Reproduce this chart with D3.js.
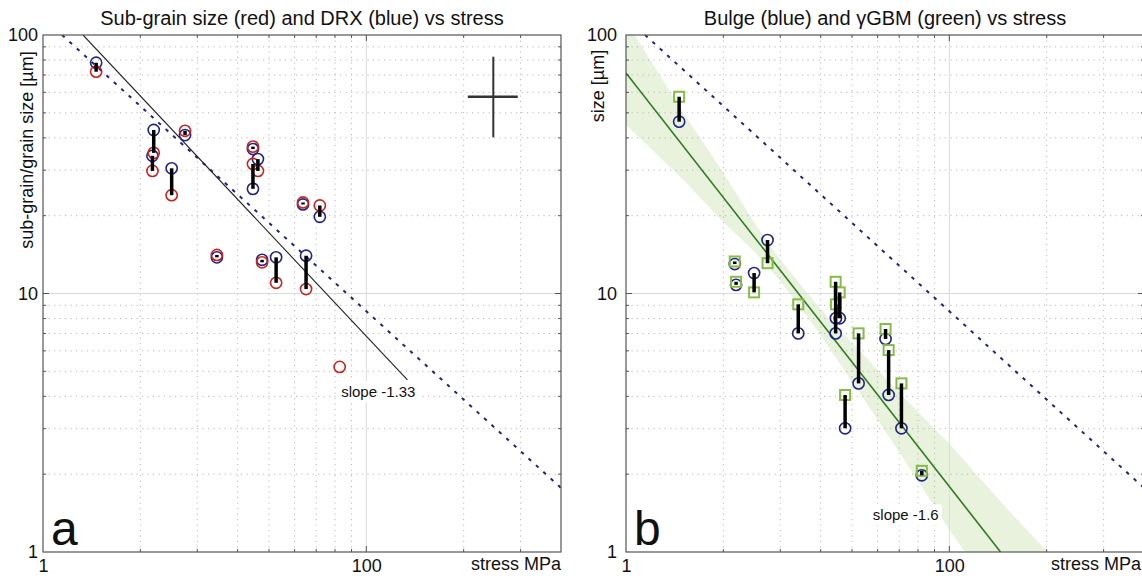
<!DOCTYPE html>
<html>
<head>
<meta charset="utf-8">
<script src="https://cdn.jsdelivr.net/npm/d3@7/dist/d3.min.js"></script>
<style>
  body { margin: 0; background: #fff; }
  text { font-family: "Liberation Sans", Arial, sans-serif; fill: #111; }
</style>
</head>
<body>
<svg id="chart" width="1142" height="576"></svg>
<script>
// panel a: sub-grain size (red) and DRX grain size (blue) per stress
const stressA = [14.6, 22.0, 21.8, 25.0, 27.5, 34.5, 44.6, 44.6, 46.2, 47.6, 52.6, 63.7, 65.1, 71.8, 82.7]
const drxA    = [78.1, 42.9, 34.1, 30.5, 41.0, 13.8, 36.2, 25.4, 33.1, 13.5, 13.8, 22.1, 14.0, 19.8, null]
const subA    = [72.1, 35.0, 29.8, 24.0, 42.6, 14.1, 37.0, 31.7, 29.8, 13.2, 11.0, 22.5, 10.4, 21.9, 5.2]

// panel b: bulge (blue) and gamma GBM (green) per stress
const stressB = [14.6, 21.7, 21.9, 24.9, 27.4, 34.1, 44.5, 44.6, 45.8, 47.6, 52.4, 63.5, 64.9, 71.1, 82.2]
const bulgeB  = [46.2, 13.0, 10.8, 12.0, 16.1, 7.01, 7.01, 8.03, 8.02, 3.01, 4.49, 6.67, 4.05, 3.01, 1.98]
const gbmB    = [57.7, 13.3, 11.1, 10.1, 13.1, 9.08, 11.1, 9.08, 10.1, 4.05, 7.01, 7.29, 6.04, 4.49, 2.06]

// reference lines, as [stress, size] end points
const piezoLine = [[11.45, 100], [400, 1.77]]     // dashed blue, both panels
const fitLineA  = [[13.3, 100], [134, 4.63]]      // slope -1.33
const fitLineB  = [[10, 71.3], [144, 1]]          // slope -1.6

// confidence band around the slope -1.6 fit
const bandX  = [10, 15, 20, 25, 30, 40, 50, 70, 100, 150, 200, 400]
const bandLo = [45.0, 27.6, 18.9, 14.5, 11.2, 6.91, 4.57, 2.43, 1.22, 0.59, 0.34, 0.05]
const bandHi = [113, 50.3, 29.3, 18.7, 13.5, 8.70, 6.45, 4.13, 2.62, 1.48, 1.01, 0.44]

// error cross (panel a)
const crossX = [206, 247, 294]
const crossY = [40.2, 57.7, 82.4]

const xTickVals = [10, 100]
const xTickText = ["1", "100"]
const yTickVals = [1, 10, 100]
const yTickText = ["1", "10", "100"]

const svg = d3.select("#chart")
const top0 = 35, bottom0 = 552, w = 518

function panel(id, left, opts) {
    const right = left + w
    const x = d3.scaleLog().domain([10, 400]).range([left, right])
    const y = d3.scaleLog().domain([1, 100]).range([bottom0, top0])
    const g = svg.append("g")

    g.append("clipPath").attr("id", "clip" + id)
        .append("rect").attr("x", left).attr("y", top0).attr("width", w).attr("height", bottom0 - top0)

    const plot = g.append("g").attr("clip-path", `url(#clip${id})`)

    // band (panel b only)
    if (opts.band) {
        const area = d3.area()
            .x((d, i) => x(bandX[i]))
            .y0((d, i) => y(bandLo[i]))
            .y1((d, i) => y(bandHi[i]))
        plot.append("path").datum(bandX).attr("d", area).attr("fill", "#e8f2dd")
    }

    // grid
    const xt = x.ticks().filter(d => d > 10 && d < 400)
    const yt = y.ticks().filter(d => d > 1 && d < 100)
    plot.append("g").selectAll("line").data(xt).join("line")
        .attr("x1", d => x(d)).attr("x2", d => x(d)).attr("y1", top0).attr("y2", bottom0)
        .attr("stroke", d => d === 100 ? "#dadada" : "#b8b8b8")
        .attr("stroke-width", 1)
        .attr("stroke-dasharray", d => d === 100 ? null : "1.2,4.3")
    plot.append("g").selectAll("line").data(yt).join("line")
        .attr("y1", d => y(d)).attr("y2", d => y(d)).attr("x1", left).attr("x2", right)
        .attr("stroke", d => d === 10 ? "#dadada" : "#b8b8b8")
        .attr("stroke-width", 1)
        .attr("stroke-dasharray", d => d === 10 ? null : "1.2,4.3")

    const line = d3.line().x(d => x(d[0])).y(d => y(d[1]))

    // dashed piezometer line
    plot.append("path").datum(piezoLine).attr("d", line)
        .attr("fill", "none").attr("stroke", "#23237f").attr("stroke-width", 2)
        .attr("stroke-dasharray", "3.5,6.5")

    // fit line
    plot.append("path").datum(opts.fit).attr("d", line)
        .attr("fill", "none").attr("stroke", opts.fitColor).attr("stroke-width", opts.fitWidth)

    // markers
    const idx = d3.range(opts.xs.length)
    plot.append("g").selectAll("circle").data(idx.filter(i => opts.ya[i] != null)).join("circle")
        .attr("cx", i => x(opts.xs[i])).attr("cy", i => y(opts.ya[i])).attr("r", 5.6)
        .attr("fill", "none").attr("stroke", "#23238a").attr("stroke-width", 1.6)
    if (opts.squares) {
        plot.append("g").selectAll("rect").data(idx).join("rect")
            .attr("x", i => x(opts.xs[i]) - 5).attr("y", i => y(opts.yb[i]) - 5)
            .attr("width", 10).attr("height", 10)
            .attr("fill", "none").attr("stroke", "#85bb47").attr("stroke-width", 2)
    } else {
        plot.append("g").selectAll("circle").data(idx).join("circle")
            .attr("cx", i => x(opts.xs[i])).attr("cy", i => y(opts.yb[i])).attr("r", 5.6)
            .attr("fill", "none").attr("stroke", "#c8241f").attr("stroke-width", 1.6)
    }
    plot.append("g").selectAll("line").data(idx.filter(i => opts.ya[i] != null)).join("line")
        .attr("x1", i => x(opts.xs[i])).attr("x2", i => x(opts.xs[i]))
        .attr("y1", i => y(opts.ya[i])).attr("y2", i => y(opts.yb[i]))
        .attr("stroke", "#000").attr("stroke-width", 3.5)

    // small ticks inside the box
    const ticks = g.append("g").attr("stroke", "#555").attr("stroke-width", 1)
    xt.forEach(d => {
        const len = d === 100 ? 6 : 3
        ticks.append("line").attr("x1", x(d)).attr("x2", x(d)).attr("y1", bottom0).attr("y2", bottom0 - len)
        ticks.append("line").attr("x1", x(d)).attr("x2", x(d)).attr("y1", top0).attr("y2", top0 + len)
    })
    yt.forEach(d => {
        const len = d === 10 ? 6 : 3
        ticks.append("line").attr("y1", y(d)).attr("y2", y(d)).attr("x1", left).attr("x2", left + len)
        ticks.append("line").attr("y1", y(d)).attr("y2", y(d)).attr("x1", right).attr("x2", right - len)
    })

    // box
    g.append("rect").attr("x", left).attr("y", top0).attr("width", w).attr("height", bottom0 - top0)
        .attr("fill", "none").attr("stroke", "#555").attr("stroke-width", 1.2)

    // axes labels
    const xa = g.append("g").attr("transform", `translate(0,${bottom0})`)
        .call(d3.axisBottom(x).tickValues(xTickVals).tickFormat((d, i) => xTickText[i]).tickSize(0).tickPadding(7))
    const ya = g.append("g").attr("transform", `translate(${left},0)`)
        .call(d3.axisLeft(y).tickValues(yTickVals).tickFormat((d, i) => yTickText[i]).tickSize(0).tickPadding(opts.yPad))
    xa.select(".domain").remove()
    ya.select(".domain").remove()
    g.selectAll(".tick text").attr("font-size", 18).attr("font-family", "Liberation Sans, Arial, sans-serif").attr("fill", "#111")

    g.append("text").attr("x", Math.min(right, 1141)).attr("y", 570).attr("text-anchor", "end")
        .attr("font-size", 18).text("stress MPa")

    g.append("text").attr("x", (left + right) / 2).attr("y", 25).attr("text-anchor", "middle")
        .attr("font-size", 20).text(opts.title)

    g.append("text").attr("transform", `translate(${left - opts.ylabelDx},${opts.ylabelY}) rotate(-90)`)
        .attr("text-anchor", "middle").attr("font-size", 18).text(opts.ylabel)

    g.append("text").attr("x", left + 8).attr("y", bottom0 - 7)
        .attr("font-size", 48).text(opts.letter)

    // slope label with white box
    const lab = g.append("g").attr("transform", `translate(${x(opts.slopeAt[0])},${y(opts.slopeAt[1])})`)
    const t = lab.append("text").attr("font-family", "Open Sans, sans-serif").attr("font-size", 15)
        .attr("dy", "0.35em").text(opts.slopeText)
    const bb = t.node().getBBox()
    lab.insert("rect", "text").attr("x", bb.x - 3).attr("y", bb.y - 2)
        .attr("width", bb.width + 6).attr("height", bb.height + 4).attr("fill", "#fff")

    return { x, y, g }
}

const pa = panel("a", 43, {
    xs: stressA, ya: drxA, yb: subA, squares: false,
    fit: fitLineA, fitColor: "#222", fitWidth: 1.1,
    title: "Sub-grain size (red) and DRX (blue) vs stress",
    ylabel: "sub-grain/grain size [µm]", ylabelY: 150, ylabelDx: 10, yPad: 5, letter: "a",
    slopeText: "slope -1.33", slopeAt: [83.6, 4.16]
})

// error cross
pa.g.append("line").attr("x1", pa.x(crossX[1])).attr("x2", pa.x(crossX[1]))
    .attr("y1", pa.y(crossY[0])).attr("y2", pa.y(crossY[2])).attr("stroke", "#333").attr("stroke-width", 2)
pa.g.append("line").attr("x1", pa.x(crossX[0])).attr("x2", pa.x(crossX[2]))
    .attr("y1", pa.y(crossY[1])).attr("y2", pa.y(crossY[1])).attr("stroke", "#333").attr("stroke-width", 2.5)

panel("b", 626, {
    xs: stressB, ya: bulgeB, yb: gbmB, squares: true, band: true,
    fit: fitLineB, fitColor: "#2f7a22", fitWidth: 1.6,
    title: "Bulge (blue) and γGBM (green) vs stress",
    ylabel: "size [µm]", ylabelY: 86, ylabelDx: 22, yPad: 9, letter: "b",
    slopeText: "slope -1.6", slopeAt: [58.0, 1.39]
})
</script>
</body>
</html>
